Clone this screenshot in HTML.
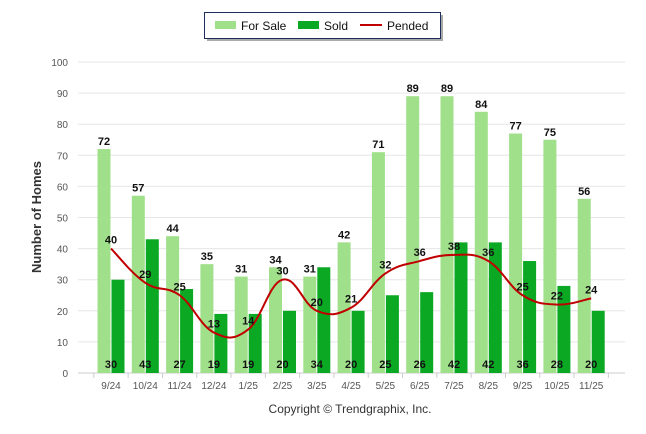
<!DOCTYPE html>
<html><head><meta charset="utf-8"><style>
body{margin:0;background:#fff;}
svg{display:block;font-family:"Liberation Sans",sans-serif;}
</style></head><body>
<svg id="c" width="646" height="434">
<g>
<rect x="207" y="15" width="236" height="26" fill="#555" opacity="0.5"/>
<rect x="204.5" y="12.5" width="236" height="26" fill="#fff" stroke="#1f2d5a" stroke-width="1"/>
<rect x="215" y="21" width="21" height="8" fill="#a0e08a"/>
<text x="241" y="30" font-size="12" fill="#111">For Sale</text>
<rect x="298" y="21" width="21" height="8" fill="#0aa823"/>
<text x="324" y="30" font-size="12" fill="#111">Sold</text>
<line x1="360" y1="25" x2="382" y2="25" stroke="#c00000" stroke-width="2"/>
<text x="387" y="30" font-size="12" fill="#111">Pended</text>
</g>
<text x="41" y="217" font-size="13" font-weight="bold" fill="#333" text-anchor="middle" transform="rotate(-90 41 217)">Number of Homes</text>
<text x="350" y="413" font-size="12" fill="#333" text-anchor="middle">Copyright © Trendgraphix, Inc.</text>
<g id="grid"></g><g id="bars"></g><g id="line"></g><g id="labels"></g>
</svg>
<script>
const categories=["9/24","10/24","11/24","12/24","1/25","2/25","3/25","4/25","5/25","6/25","7/25","8/25","9/25","10/25","11/25"];
const forSale=[72,57,44,35,31,34,31,42,71,89,89,84,77,75,56];
const sold=[30,43,27,19,19,20,34,20,25,26,42,42,36,28,20];
const pended=[40,29,25,13,14,30,20,21,32,36,38,36,25,22,24];
const yTicks=[0,10,20,30,40,50,60,70,80,90,100];
const NS="http://www.w3.org/2000/svg";
const y=v=>373-v*3.11;
const x=i=>111+i*34.3;
function mk(t,a,p){const e=document.createElementNS(NS,t);for(const k in a)e.setAttribute(k,a[k]);p.appendChild(e);return e;}
const grid=document.getElementById('grid'),bars=document.getElementById('bars'),line=document.getElementById('line'),labels=document.getElementById('labels');
yTicks.forEach(v=>{
 const g=mk('line',{x1:78,x2:625,y1:y(v),y2:y(v),stroke:v?'#e6e6e6':'#ccc','stroke-width':1},grid);
 
 
 const t=mk('text',{x:68,y:y(v)+4,'font-size':10,fill:'#555','text-anchor':'end'},grid);t.textContent=v;
 
 
});
for(let i=0;i<=15;i++){mk('line',{x1:x(i)-17.15,x2:x(i)-17.15,y1:373,y2:378,stroke:'#ccc'},grid);}
categories.forEach((c,i)=>{
 const t=mk('text',{x:x(i),y:389,'font-size':10,fill:'#555','text-anchor':'middle'},labels);t.textContent=c;
 
 
 const b1=mk('rect',{x:x(i)-13.5,y:y(forSale[i]),width:13,height:373-y(forSale[i]),fill:'#a0e08a'},bars);
 
 
 const b2=mk('rect',{x:x(i)+0.5,y:y(sold[i]),width:13,height:373-y(sold[i]),fill:'#0aa823'},bars);
 
 
 const l1=mk('text',{x:x(i)-7,y:y(forSale[i])-4,'font-size':11,'font-weight':'bold',fill:'#111','text-anchor':'middle'},labels);l1.textContent=forSale[i];
 
 
 const l2=mk('text',{x:x(i),y:368,'font-size':11,'font-weight':'bold',fill:'#111','text-anchor':'middle'},labels);l2.textContent=sold[i];
 
 
 const l3=mk('text',{x:x(i),y:y(pended[i])-5,'font-size':11,'font-weight':'bold',fill:'#111','text-anchor':'middle'},labels);l3.textContent=pended[i];
 
 
});
const pts=pended.map((v,i)=>[x(i),y(v)]);
let d='M'+pts[0][0]+','+pts[0][1];
for(let i=0;i<pts.length-1;i++){
 const p0=pts[Math.max(0,i-1)],p1=pts[i],p2=pts[i+1],p3=pts[Math.min(pts.length-1,i+2)];
 const t=0.2;
 d+=` C${p1[0]+(p2[0]-p0[0])*t},${p1[1]+(p2[1]-p0[1])*t} ${p2[0]-(p3[0]-p1[0])*t},${p2[1]-(p3[1]-p1[1])*t} ${p2[0]},${p2[1]}`;
}
const pl=mk('path',{d:d,fill:'none',stroke:'#c00000','stroke-width':2},line);


</script>
</body></html>
